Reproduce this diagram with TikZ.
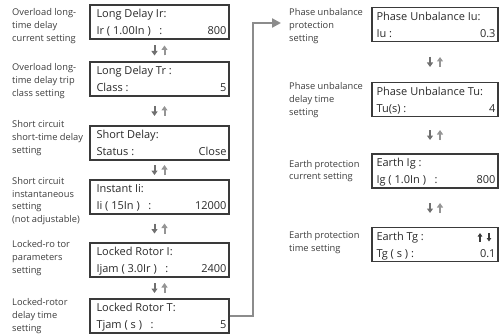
\documentclass[tikz,border=0pt]{standalone}
\usepackage{fontspec}
\setmainfont{Open Sans}
\usetikzlibrary{arrows.meta}
\definecolor{boxc}{HTML}{3A3A3A}
\definecolor{txtc}{HTML}{2A2A2A}
\definecolor{lblc}{HTML}{3C3C3C}
\definecolor{connc}{HTML}{8C8C8C}
\definecolor{dnc}{HTML}{707070}
\definecolor{upc}{HTML}{959595}
\newcommand\pairDU[2]{%
  \draw[sarr,draw=dnc,fill=dnc] (#1-5,#2-5) -- (#1-5,#2+5);
  \draw[sarr,draw=upc,fill=upc] (#1+5,#2+5) -- (#1+5,#2-5);}
\begin{document}
\begin{tikzpicture}[x=1pt,y=-1pt,
  lbox/.style={draw=boxc, line width=1.4pt, minimum width=139pt, minimum height=34pt, inner sep=0pt},
  rbox/.style={draw=boxc, line width=1.4pt, minimum width=126pt, minimum height=34pt, inner sep=0pt},
  btxt/.style={inner sep=0pt, text=txtc, font=\fontsize{11}{12}\selectfont, text height=7.8pt, text depth=2pt},
  lbl/.style={inner sep=0pt, anchor=west, align=left, text=lblc, font=\fontsize{9.3}{12.7}\selectfont},
  sarr/.style={line width=2pt, -{Triangle[width=6pt,length=4.5pt]}},
  tarr/.style={line width=1.4pt, -{Triangle[width=4.5pt,length=3.5pt]}, draw=boxc, fill=boxc},
  conn/.style={draw=connc, line width=2.4pt, -{Triangle[width=9pt,length=9pt]}}]
\useasboundingbox (0,0) rectangle (500,334);

% left column boxes
\node[lbox] (b1) at (159.5,22) {};
\node[lbox] (b2) at (159.5,79) {};
\node[lbox] (b3) at (159.5,143) {};
\node[lbox] (b4) at (159.5,197) {};
\node[lbox] (b5) at (159.5,260) {};
\node[lbox] (b6) at (159.5,316) {};

\node[btxt,anchor=west] (b1a) at ([shift={(7,-7)}]b1.west) {Long Delay Ir:};
\node[btxt,anchor=west] (b1b) at ([shift={(7,10)}]b1.west) {Ir ( 1.00In ) \ \ :};
\node[btxt,anchor=east] (b1c) at ([shift={(-3,10)}]b1.east) {800};

\node[btxt,anchor=west] (b2a) at ([shift={(7,-7)}]b2.west) {Long Delay Tr :};
\node[btxt,anchor=west] (b2b) at ([shift={(7,10)}]b2.west) {Class :};
\node[btxt,anchor=east] (b2c) at ([shift={(-3,10)}]b2.east) {5};

\node[btxt,anchor=west] (b3a) at ([shift={(7,-7)}]b3.west) {Short Delay:};
\node[btxt,anchor=west] (b3b) at ([shift={(7,10)}]b3.west) {Status :};
\node[btxt,anchor=east] (b3c) at ([shift={(-3,10)}]b3.east) {Close};

\node[btxt,anchor=west] (b4a) at ([shift={(7,-7)}]b4.west) {Instant Ii:};
\node[btxt,anchor=west] (b4b) at ([shift={(7,10)}]b4.west) {Ii ( 15In ) \ \ :};
\node[btxt,anchor=east] (b4c) at ([shift={(-3,10)}]b4.east) {12000};

\node[btxt,anchor=west] (b5a) at ([shift={(7,-7)}]b5.west) {Locked Rotor I:};
\node[btxt,anchor=west] (b5b) at ([shift={(7,10)}]b5.west) {Ijam ( 3.0Ir ) \ \ :};
\node[btxt,anchor=east] (b5c) at ([shift={(-3,10)}]b5.east) {2400};

\node[btxt,anchor=west] (b6a) at ([shift={(7,-7)}]b6.west) {Locked Rotor T:};
\node[btxt,anchor=west] (b6b) at ([shift={(7,10)}]b6.west) {Tjam ( s ) \ \ :};
\node[btxt,anchor=east] (b6c) at ([shift={(-3,10)}]b6.east) {5};

% right column boxes
\node[rbox] (r1) at (435,24.5) {};
\node[rbox] (r2) at (435,99.5) {};
\node[rbox] (r3) at (435,171) {};
\node[rbox] (r4) at (435,244.5) {};

\node[btxt,anchor=west] (r1a) at ([shift={(5,-7)}]r1.west) {Phase Unbalance Iu:};
\node[btxt,anchor=west] (r1b) at ([shift={(5,10)}]r1.west) {Iu :};
\node[btxt,anchor=east] (r1c) at ([shift={(-3,10)}]r1.east) {0.3};

\node[btxt,anchor=west] (r2a) at ([shift={(5,-7)}]r2.west) {Phase Unbalance Tu:};
\node[btxt,anchor=west] (r2b) at ([shift={(5,10)}]r2.west) {Tu(s) :};
\node[btxt,anchor=east] (r2c) at ([shift={(-3,10)}]r2.east) {4};

\node[btxt,anchor=west] (r3a) at ([shift={(5,-7)}]r3.west) {Earth Ig :};
\node[btxt,anchor=west] (r3b) at ([shift={(5,10)}]r3.west) {Ig ( 1.0In ) \ \ :};
\node[btxt,anchor=east] (r3c) at ([shift={(-3,10)}]r3.east) {800};

\node[btxt,anchor=west] (r4a) at ([shift={(5,-7)}]r4.west) {Earth Tg :};
\node[btxt,anchor=west] (r4b) at ([shift={(5,10)}]r4.west) {Tg ( s ) :};
\node[btxt,anchor=east] (r4c) at ([shift={(-3,10)}]r4.east) {0.1};
\draw[tarr] (480,241.5) -- (480,233);
\draw[tarr] (489,233) -- (489,241.5);

% labels
\node[lbl] (l1) at (12,26) {Overload long-\\time delay\\current setting};
\node[lbl] (l2) at (12,81) {Overload long-\\time delay trip\\class setting};
\node[lbl] (l3) at (12,138) {Short circuit\\short-time delay\\setting};
\node[lbl] (l4) at (12,201) {Short circuit\\instantaneous\\setting\\(not adjustable)};
\node[lbl] (l5) at (12,258) {Locked-ro tor\\parameters\\setting};
\node[lbl] (l6) at (12,316) {Locked-rotor\\delay time\\setting};

\node[lbl] (m1) at (289,26) {Phase unbalance\\protection\\setting};
\node[lbl] (m2) at (289,100) {Phase unbalance\\delay time\\setting};
\node[lbl] (m3) at (289,171) {Earth protection\\current setting};
\node[lbl] (m4) at (289,242.5) {Earth protection\\time setting};

% up/down arrow pairs
\pairDU{159.5}{50.5}
\pairDU{159.5}{111}
\pairDU{159.5}{170}
\pairDU{159.5}{228.5}
\pairDU{159.5}{288}
\pairDU{435}{62}
\pairDU{435}{135}
\pairDU{435}{208}

% connector
\coordinate (c1) at (281,23);
\draw[conn] (b6.east) -- (253,316) -- (253,23) -- (c1);
\end{tikzpicture}
\end{document}
